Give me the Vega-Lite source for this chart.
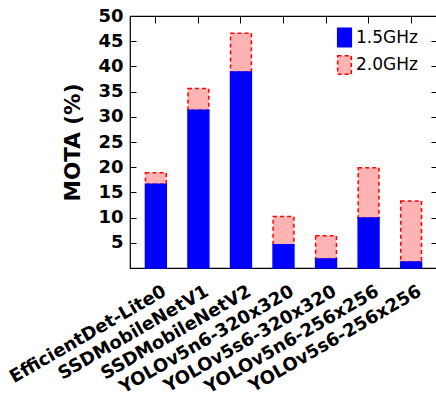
{
  "$schema": "https://vega.github.io/schema/vega-lite/v6.json",
  "autosize": {"type": "none"},
  "padding": {"left": 130, "top": 16, "right": 0, "bottom": 137},
  "width": 307,
  "height": 252,
  "config": {
    "font": "DejaVu Sans",
    "view": {"stroke": "#000000", "strokeWidth": 1.2},
    "axis": {"domain": false, "tickColor": "#000000", "tickWidth": 1, "labelColor": "#000000", "titleColor": "#000000"}
  },
  "data": {
    "values": [
      {"model": "EfficientDet-Lite0", "freq": "2.0GHz", "value": 2.3},
      {"model": "SSDMobileNetV1", "freq": "2.0GHz", "value": 4.3},
      {"model": "SSDMobileNetV2", "freq": "2.0GHz", "value": 7.7},
      {"model": "YOLOv5n6-320x320", "freq": "2.0GHz", "value": 5.6},
      {"model": "YOLOv5s6-320x320", "freq": "2.0GHz", "value": 4.6},
      {"model": "YOLOv5n6-256x256", "freq": "2.0GHz", "value": 10.0},
      {"model": "YOLOv5s6-256x256", "freq": "2.0GHz", "value": 12.1},
      {"model": "EfficientDet-Lite0", "freq": "1.5GHz", "value": 16.6},
      {"model": "SSDMobileNetV1", "freq": "1.5GHz", "value": 31.3},
      {"model": "SSDMobileNetV2", "freq": "1.5GHz", "value": 38.9},
      {"model": "YOLOv5n6-320x320", "freq": "1.5GHz", "value": 4.6},
      {"model": "YOLOv5s6-320x320", "freq": "1.5GHz", "value": 1.8},
      {"model": "YOLOv5n6-256x256", "freq": "1.5GHz", "value": 9.9},
      {"model": "YOLOv5s6-256x256", "freq": "1.5GHz", "value": 1.2}
    ]
  },
  "layer": [
    {
      "mark": {"type": "bar", "strokeWidth": 1.5},
      "encoding": {
        "x": {
          "field": "model", "type": "nominal",
          "sort": ["EfficientDet-Lite0", "SSDMobileNetV1", "SSDMobileNetV2", "YOLOv5n6-320x320", "YOLOv5s6-320x320", "YOLOv5n6-256x256", "YOLOv5s6-256x256"],
          "scale": {"paddingInner": 0.51, "paddingOuter": 0.363},
          "axis": {"orient": "bottom", "title": null, "ticks": false, "labelAngle": -30, "labelAlign": "right", "labelBaseline": "middle", "labelFontSize": 18, "labelFontWeight": "bold", "labelPadding": 22, "labelOffset": 9, "labelLimit": 0, "labelOverlap": false}
        },
        "y": {
          "field": "value", "type": "quantitative", "stack": "zero",
          "scale": {"domain": [0, 50], "nice": false},
          "axis": {"orient": "left", "title": "MOTA (%)", "titleFontSize": 21.5, "titleFontWeight": "bold", "titlePadding": 13, "values": [0, 5, 10, 15, 20, 25, 30, 35, 40, 45, 50], "labelExpr": "datum.value == 0 ? '' : datum.label", "tickSize": -6, "labelPadding": 13, "labelFontSize": 18, "labelFontWeight": "bold", "grid": false}
        },
        "fill": {
          "field": "freq", "type": "nominal",
          "scale": {"domain": ["1.5GHz", "2.0GHz"], "range": ["#0000ff", "#ffb3b3"]},
          "legend": {"orient": "none", "legendX": 204, "legendY": 11, "title": null, "labelFontSize": 17, "symbolType": "M-0.73,-1H0.73V1H-0.73Z", "symbolSize": 350, "symbolStrokeWidth": 1.5, "rowPadding": 2.5, "labelOffset": 1}
        },
        "stroke": {
          "field": "freq", "type": "nominal",
          "scale": {"domain": ["1.5GHz", "2.0GHz"], "range": ["#0000ff", "#ff0000"]},
          "legend": {"orient": "none", "legendX": 204, "legendY": 11, "title": null, "labelFontSize": 17, "symbolType": "M-0.73,-1H0.73V1H-0.73Z", "symbolSize": 350, "symbolStrokeWidth": 1.5, "rowPadding": 2.5, "labelOffset": 1}
        },
        "strokeDash": {
          "field": "freq", "type": "nominal",
          "scale": {"domain": ["1.5GHz", "2.0GHz"], "range": [[1, 0], [4, 3]]},
          "legend": {"orient": "none", "legendX": 204, "legendY": 11, "title": null, "labelFontSize": 17, "symbolType": "M-0.73,-1H0.73V1H-0.73Z", "symbolSize": 350, "symbolStrokeWidth": 1.5, "rowPadding": 2.5, "labelOffset": 1}
        },
        "order": {"field": "freq", "sort": "ascending"}
      }
    },
    {
      "mark": {"type": "bar", "opacity": 0},
      "encoding": {
        "x": {
          "field": "model", "type": "nominal",
          "sort": ["EfficientDet-Lite0", "SSDMobileNetV1", "SSDMobileNetV2", "YOLOv5n6-320x320", "YOLOv5s6-320x320", "YOLOv5n6-256x256", "YOLOv5s6-256x256"],
          "axis": {"orient": "top", "title": null, "labels": false, "tickSize": -7}
        },
        "y": {
          "field": "value", "type": "quantitative", "stack": "zero",
          "axis": {"orient": "right", "title": null, "labels": false, "values": [0, 5, 10, 15, 20, 25, 30, 35, 40, 45, 50], "tickSize": -6, "grid": false}
        }
      }
    }
  ],
  "resolve": {"axis": {"x": "independent", "y": "independent"}}
}
